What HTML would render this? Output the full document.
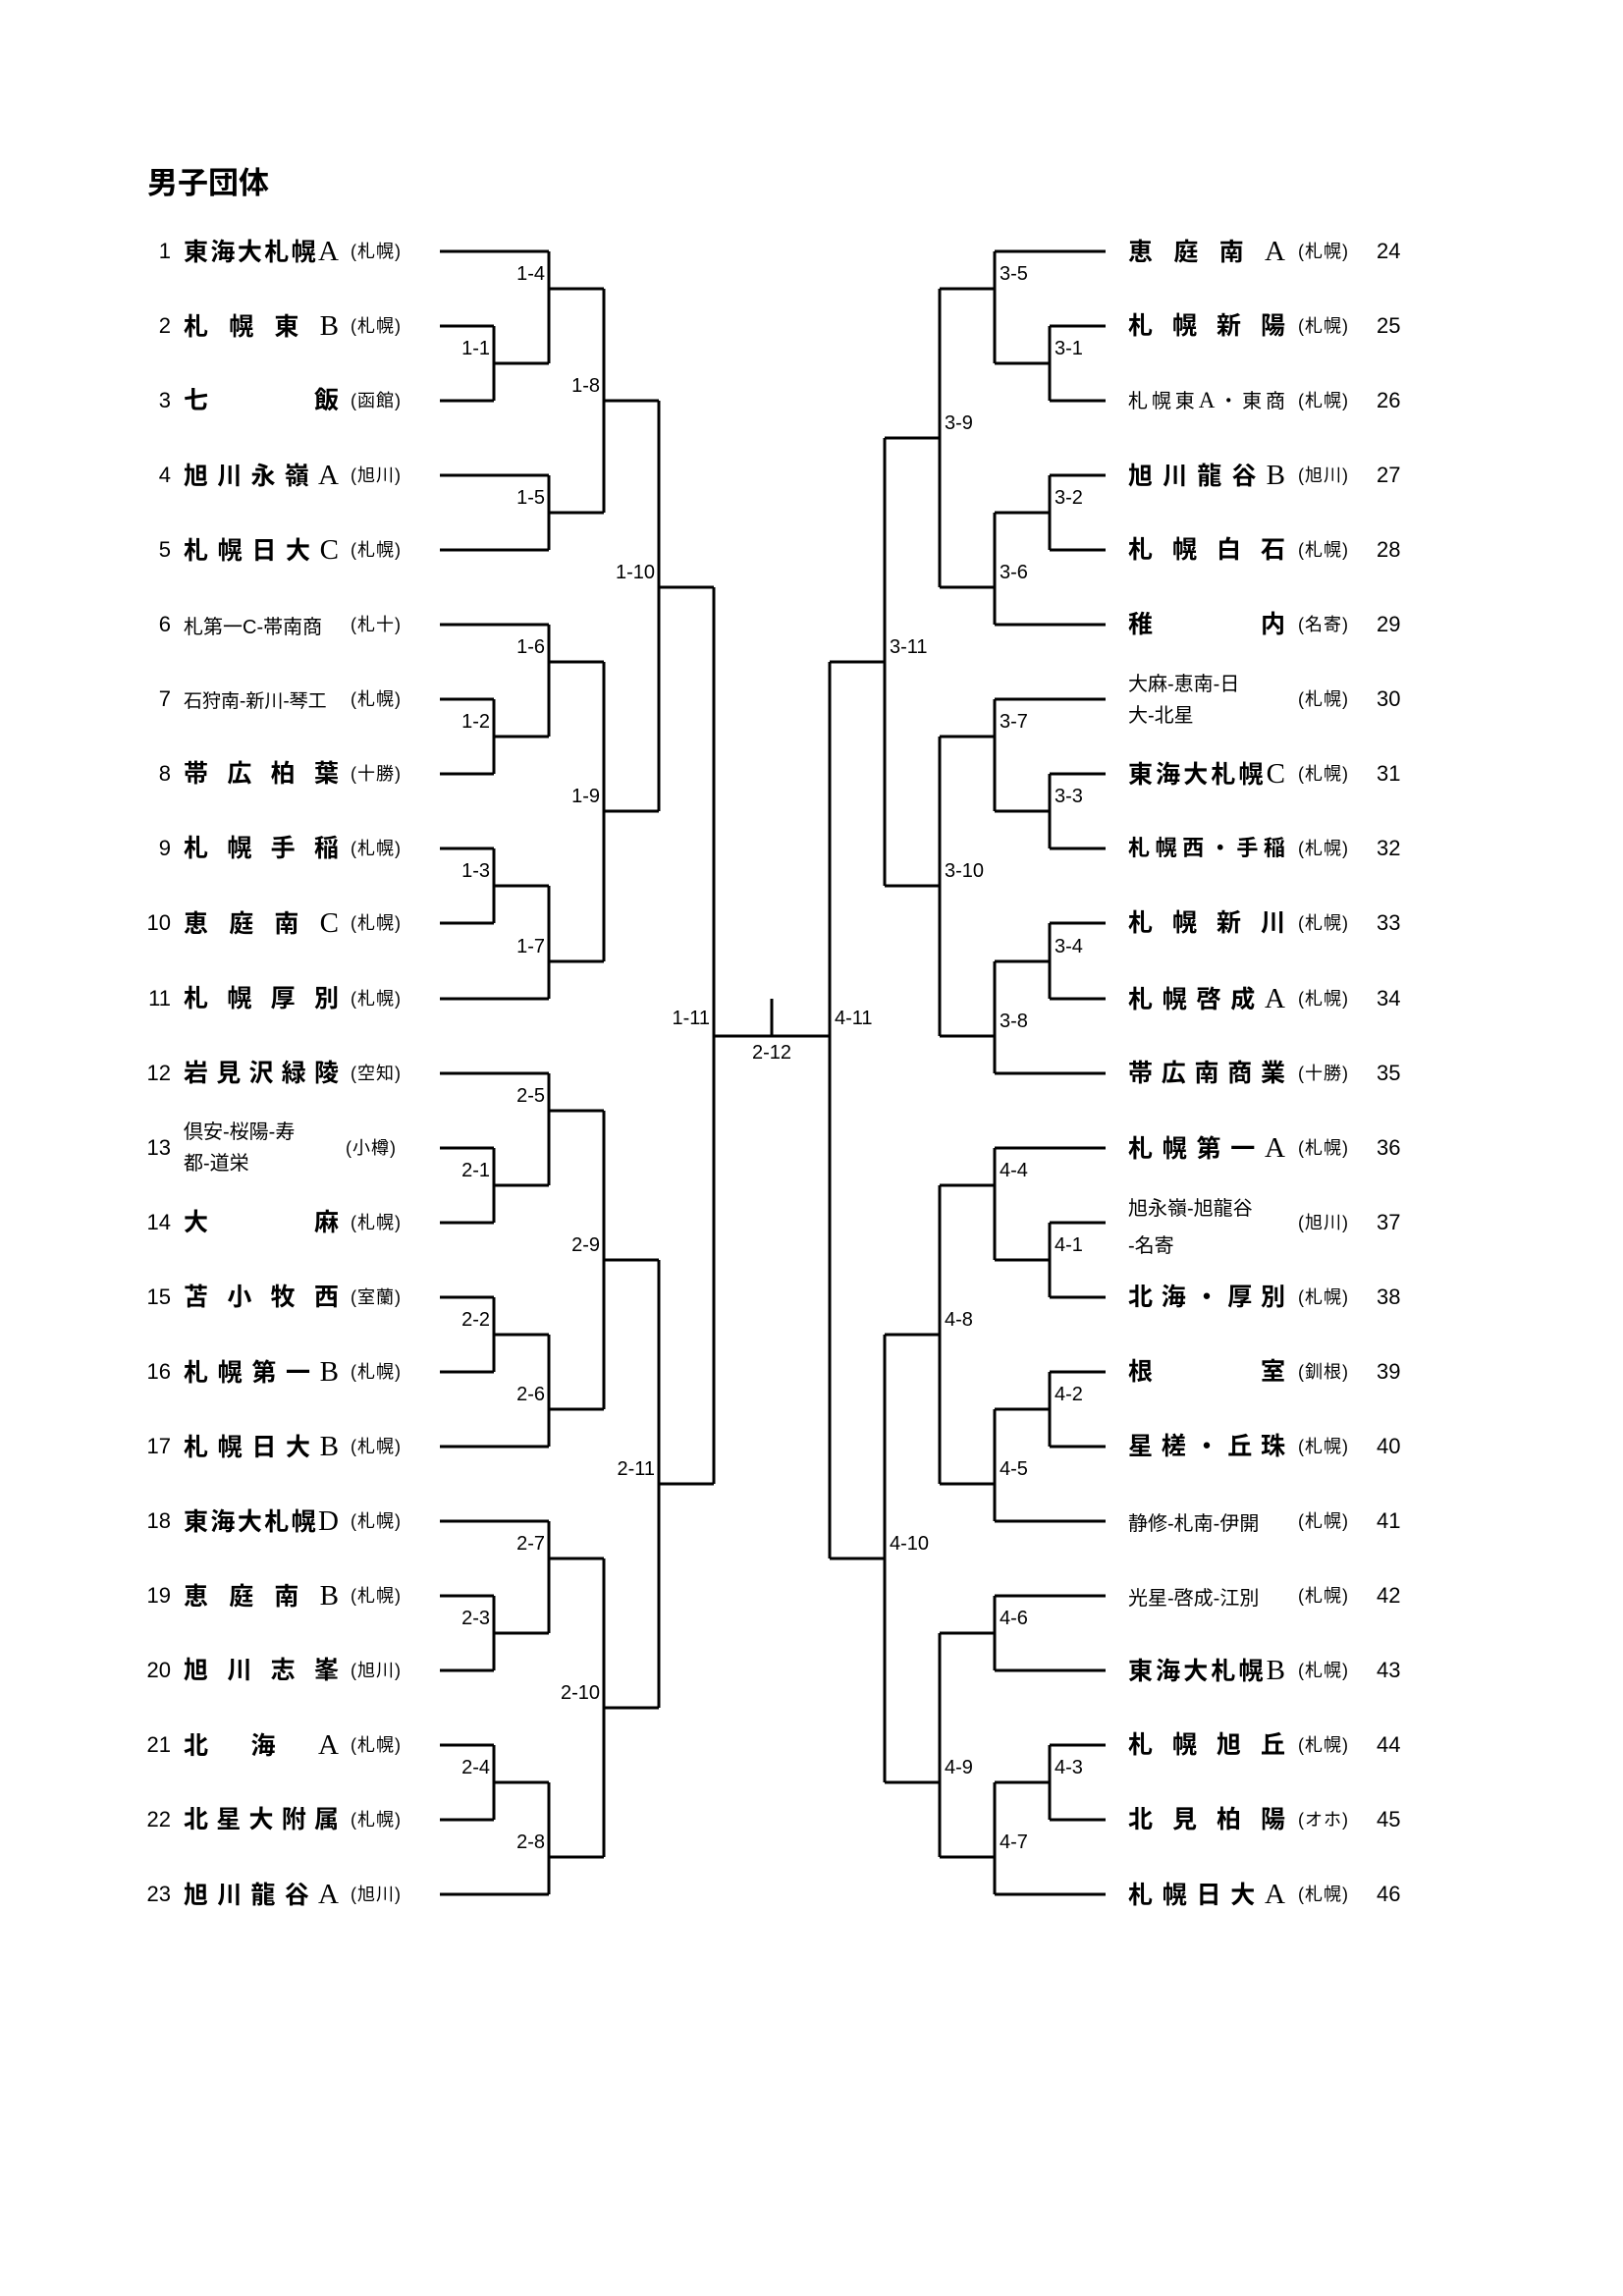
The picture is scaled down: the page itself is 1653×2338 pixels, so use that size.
<!DOCTYPE html>
<html><head><meta charset="utf-8">
<style>
html,body{margin:0;padding:0;background:#fff;}
body{width:1653px;height:2338px;position:relative;overflow:hidden;font-family:"Liberation Sans","Noto Sans CJK JP",sans-serif;color:#000;}
.t{position:absolute;left:150px;top:168px;font-size:31px;font-weight:bold;line-height:38px;white-space:nowrap;}
.n,.nm,.p,.rn,.rnm,.rp,.l,.r,.c{position:absolute;height:30px;line-height:30px;white-space:nowrap;}
.n{left:110px;width:64px;text-align:right;font-size:22px;}
.rn{left:1402px;font-size:22px;}
.nm{left:187px;width:158px;font-size:25px;font-weight:bold;text-align:justify;text-align-last:justify;}
.rnm{left:1149px;width:160px;font-size:25px;font-weight:bold;text-align:justify;text-align-last:justify;}
.p{left:357px;font-size:18px;letter-spacing:1px;}
.rp{left:1322px;font-size:18px;letter-spacing:1px;}
.sm{font-size:20px;font-weight:normal;text-align:left;text-align-last:left;}
.s{font-family:"Liberation Serif",serif;font-size:29px;font-weight:normal;}
.two{height:64px;line-height:32px;font-size:20px;font-weight:normal;text-align:left;text-align-last:left;}
.l{font-size:20px;text-align:right;width:60px;}
.r{font-size:20px;}
.c{font-size:20px;width:60px;text-align:center;}
</style></head><body>
<div class="t">男子団体</div>
<svg width="1653" height="2338" style="position:absolute;left:0;top:0" fill="none" stroke="#000" stroke-width="3">
<path d="M448 256H559M448 332H503M448 408H503M448 484H559M448 560H559M448 636H559M448 712H503M448 788H503M448 864H503M448 940H503M448 1017H559M448 1093H559M448 1169H503M448 1245H503M448 1321H503M448 1397H503M448 1473H559M448 1549H559M448 1625H503M448 1701H503M448 1777H503M448 1853H503M448 1929H559"/>
<path d="M503 332V408M503 370H559M559 256V370M559 294H615M559 484V560M559 522H615M615 294V522M615 408H671M503 712V788M503 750H559M559 636V750M559 674H615M503 864V940M503 902H559M559 902V1017M559 979H615M615 674V979M615 826H671M671 408V826M671 598H727"/>
<path d="M503 1169V1245M503 1207H559M559 1093V1207M559 1131H615M503 1321V1397M503 1359H559M559 1359V1473M559 1435H615M615 1131V1435M615 1283H671M503 1625V1701M503 1663H559M559 1549V1663M559 1587H615M503 1777V1853M503 1815H559M559 1815V1929M559 1891H615M615 1587V1891M615 1739H671M671 1283V1739M671 1511H727"/>
<path d="M727 598V1511M727 1055H845M786 1017V1055M845 674V1587"/>
<path d="M1013 256H1126M1069 332H1126M1069 408H1126M1069 484H1126M1069 560H1126M1013 636H1126M1013 712H1126M1069 788H1126M1069 864H1126M1069 940H1126M1069 1017H1126M1013 1093H1126M1013 1169H1126M1069 1245H1126M1069 1321H1126M1069 1397H1126M1069 1473H1126M1013 1549H1126M1013 1625H1126M1013 1701H1126M1069 1777H1126M1069 1853H1126M1013 1929H1126"/>
<path d="M1069 332V408M1069 370H1013M1013 256V370M1013 294H957M1069 484V560M1069 522H1013M1013 522V636M1013 598H957M957 294V598M957 446H901M1069 788V864M1069 826H1013M1013 712V826M1013 750H957M1069 940V1017M1069 979H1013M1013 979V1093M1013 1055H957M957 750V1055M957 902H901M901 446V902M901 674H845"/>
<path d="M1069 1245V1321M1069 1283H1013M1013 1169V1283M1013 1207H957M1069 1397V1473M1069 1435H1013M1013 1435V1549M1013 1511H957M957 1207V1511M957 1359H901M1013 1625V1701M1013 1663H957M1069 1777V1853M1069 1815H1013M1013 1815V1929M1013 1891H957M957 1663V1891M957 1815H901M901 1359V1815M901 1587H845"/>
</svg>

<div class="l" style="left:495px;top:264px">1-4</div>
<div class="l" style="left:439px;top:340px">1-1</div>
<div class="l" style="left:551px;top:378px">1-8</div>
<div class="l" style="left:495px;top:492px">1-5</div>
<div class="l" style="left:607px;top:568px">1-10</div>
<div class="l" style="left:495px;top:644px">1-6</div>
<div class="l" style="left:439px;top:720px">1-2</div>
<div class="l" style="left:551px;top:796px">1-9</div>
<div class="l" style="left:439px;top:872px">1-3</div>
<div class="l" style="left:495px;top:949px">1-7</div>
<div class="l" style="left:663px;top:1022px">1-11</div>
<div class="l" style="left:495px;top:1101px">2-5</div>
<div class="l" style="left:439px;top:1177px">2-1</div>
<div class="l" style="left:551px;top:1253px">2-9</div>
<div class="l" style="left:439px;top:1329px">2-2</div>
<div class="l" style="left:495px;top:1405px">2-6</div>
<div class="l" style="left:607px;top:1481px">2-11</div>
<div class="l" style="left:495px;top:1557px">2-7</div>
<div class="l" style="left:439px;top:1633px">2-3</div>
<div class="l" style="left:551px;top:1709px">2-10</div>
<div class="l" style="left:439px;top:1785px">2-4</div>
<div class="l" style="left:495px;top:1861px">2-8</div>
<div class="c" style="left:756px;top:1057px">2-12</div>
<div class="r" style="left:1018px;top:264px">3-5</div>
<div class="r" style="left:1074px;top:340px">3-1</div>
<div class="r" style="left:962px;top:416px">3-9</div>
<div class="r" style="left:1074px;top:492px">3-2</div>
<div class="r" style="left:1018px;top:568px">3-6</div>
<div class="r" style="left:906px;top:644px">3-11</div>
<div class="r" style="left:1018px;top:720px">3-7</div>
<div class="r" style="left:1074px;top:796px">3-3</div>
<div class="r" style="left:962px;top:872px">3-10</div>
<div class="r" style="left:1074px;top:949px">3-4</div>
<div class="r" style="left:1018px;top:1025px">3-8</div>
<div class="r" style="left:850px;top:1022px">4-11</div>
<div class="r" style="left:1018px;top:1177px">4-4</div>
<div class="r" style="left:1074px;top:1253px">4-1</div>
<div class="r" style="left:962px;top:1329px">4-8</div>
<div class="r" style="left:1074px;top:1405px">4-2</div>
<div class="r" style="left:1018px;top:1481px">4-5</div>
<div class="r" style="left:906px;top:1557px">4-10</div>
<div class="r" style="left:1018px;top:1633px">4-6</div>
<div class="r" style="left:962px;top:1785px">4-9</div>
<div class="r" style="left:1074px;top:1785px">4-3</div>
<div class="r" style="left:1018px;top:1861px">4-7</div>

<div class="n" style="top:241px">1</div><div class="nm" style="top:241px">東海大札幌<span class="s">A</span></div><div class="p" style="top:241px">(札幌)</div>
<div class="n" style="top:317px">2</div><div class="nm" style="top:317px">札幌東<span class="s">B</span></div><div class="p" style="top:317px">(札幌)</div>
<div class="n" style="top:393px">3</div><div class="nm" style="top:393px">七飯</div><div class="p" style="top:393px">(函館)</div>
<div class="n" style="top:469px">4</div><div class="nm" style="top:469px">旭川永嶺<span class="s">A</span></div><div class="p" style="top:469px">(旭川)</div>
<div class="n" style="top:545px">5</div><div class="nm" style="top:545px">札幌日大<span class="s">C</span></div><div class="p" style="top:545px">(札幌)</div>
<div class="n" style="top:621px">6</div><div class="nm sm" style="top:624px">札第一C-帯南商</div><div class="p" style="top:621px">(札十)</div>
<div class="n" style="top:697px">7</div><div class="nm sm" style="top:700px;font-size:19px">石狩南-新川-琴工</div><div class="p" style="top:697px">(札幌)</div>
<div class="n" style="top:773px">8</div><div class="nm" style="top:773px">帯広柏葉</div><div class="p" style="top:773px">(十勝)</div>
<div class="n" style="top:849px">9</div><div class="nm" style="top:849px">札幌手稲</div><div class="p" style="top:849px">(札幌)</div>
<div class="n" style="top:925px">10</div><div class="nm" style="top:925px">恵庭南<span class="s">C</span></div><div class="p" style="top:925px">(札幌)</div>
<div class="n" style="top:1002px">11</div><div class="nm" style="top:1002px">札幌厚別</div><div class="p" style="top:1002px">(札幌)</div>
<div class="n" style="top:1078px">12</div><div class="nm" style="top:1078px">岩見沢緑陵</div><div class="p" style="top:1078px">(空知)</div>
<div class="n" style="top:1154px">13</div><div class="nm two" style="top:1137px">倶安-桜陽-寿<br>都-道栄</div><div class="p" style="top:1154px;left:352px">(小樽)</div>
<div class="n" style="top:1230px">14</div><div class="nm" style="top:1230px">大麻</div><div class="p" style="top:1230px">(札幌)</div>
<div class="n" style="top:1306px">15</div><div class="nm" style="top:1306px">苫小牧西</div><div class="p" style="top:1306px">(室蘭)</div>
<div class="n" style="top:1382px">16</div><div class="nm" style="top:1382px">札幌第一<span class="s">B</span></div><div class="p" style="top:1382px">(札幌)</div>
<div class="n" style="top:1458px">17</div><div class="nm" style="top:1458px">札幌日大<span class="s">B</span></div><div class="p" style="top:1458px">(札幌)</div>
<div class="n" style="top:1534px">18</div><div class="nm" style="top:1534px">東海大札幌<span class="s">D</span></div><div class="p" style="top:1534px">(札幌)</div>
<div class="n" style="top:1610px">19</div><div class="nm" style="top:1610px">恵庭南<span class="s">B</span></div><div class="p" style="top:1610px">(札幌)</div>
<div class="n" style="top:1686px">20</div><div class="nm" style="top:1686px">旭川志峯</div><div class="p" style="top:1686px">(旭川)</div>
<div class="n" style="top:1762px">21</div><div class="nm" style="top:1762px">北海<span class="s">A</span></div><div class="p" style="top:1762px">(札幌)</div>
<div class="n" style="top:1838px">22</div><div class="nm" style="top:1838px">北星大附属</div><div class="p" style="top:1838px">(札幌)</div>
<div class="n" style="top:1914px">23</div><div class="nm" style="top:1914px">旭川龍谷<span class="s">A</span></div><div class="p" style="top:1914px">(旭川)</div>

<div class="rnm" style="top:241px">恵庭南<span class="s">A</span></div><div class="rp" style="top:241px">(札幌)</div><div class="rn" style="top:241px">24</div>
<div class="rnm" style="top:317px">札幌新陽</div><div class="rp" style="top:317px">(札幌)</div><div class="rn" style="top:317px">25</div>
<div class="rnm" style="top:393px;font-size:20px;font-weight:normal">札幌東<span class="s" style="font-size:23px">A</span>・東商</div><div class="rp" style="top:393px">(札幌)</div><div class="rn" style="top:393px">26</div>
<div class="rnm" style="top:469px">旭川龍谷<span class="s">B</span></div><div class="rp" style="top:469px">(旭川)</div><div class="rn" style="top:469px">27</div>
<div class="rnm" style="top:545px">札幌白石</div><div class="rp" style="top:545px">(札幌)</div><div class="rn" style="top:545px">28</div>
<div class="rnm" style="top:621px">稚内</div><div class="rp" style="top:621px">(名寄)</div><div class="rn" style="top:621px">29</div>
<div class="rnm two" style="top:681px">大麻-恵南-日<br>大-北星</div><div class="rp" style="top:697px">(札幌)</div><div class="rn" style="top:697px">30</div>
<div class="rnm" style="top:773px">東海大札幌<span class="s">C</span></div><div class="rp" style="top:773px">(札幌)</div><div class="rn" style="top:773px">31</div>
<div class="rnm" style="top:849px;font-size:22px">札幌西・手稲</div><div class="rp" style="top:849px">(札幌)</div><div class="rn" style="top:849px">32</div>
<div class="rnm" style="top:925px">札幌新川</div><div class="rp" style="top:925px">(札幌)</div><div class="rn" style="top:925px">33</div>
<div class="rnm" style="top:1002px">札幌啓成<span class="s">A</span></div><div class="rp" style="top:1002px">(札幌)</div><div class="rn" style="top:1002px">34</div>
<div class="rnm" style="top:1078px">帯広南商業</div><div class="rp" style="top:1078px">(十勝)</div><div class="rn" style="top:1078px">35</div>
<div class="rnm" style="top:1154px">札幌第一<span class="s">A</span></div><div class="rp" style="top:1154px">(札幌)</div><div class="rn" style="top:1154px">36</div>
<div class="rnm two" style="top:1212px;height:70px;line-height:38px">旭永嶺-旭龍谷<br>-名寄</div><div class="rp" style="top:1230px">(旭川)</div><div class="rn" style="top:1230px">37</div>
<div class="rnm" style="top:1306px">北海・厚別</div><div class="rp" style="top:1306px">(札幌)</div><div class="rn" style="top:1306px">38</div>
<div class="rnm" style="top:1382px">根室</div><div class="rp" style="top:1382px">(釧根)</div><div class="rn" style="top:1382px">39</div>
<div class="rnm" style="top:1458px">星槎・丘珠</div><div class="rp" style="top:1458px">(札幌)</div><div class="rn" style="top:1458px">40</div>
<div class="rnm sm" style="top:1537px">静修-札南-伊開</div><div class="rp" style="top:1534px">(札幌)</div><div class="rn" style="top:1534px">41</div>
<div class="rnm sm" style="top:1613px">光星-啓成-江別</div><div class="rp" style="top:1610px">(札幌)</div><div class="rn" style="top:1610px">42</div>
<div class="rnm" style="top:1686px">東海大札幌<span class="s">B</span></div><div class="rp" style="top:1686px">(札幌)</div><div class="rn" style="top:1686px">43</div>
<div class="rnm" style="top:1762px">札幌旭丘</div><div class="rp" style="top:1762px">(札幌)</div><div class="rn" style="top:1762px">44</div>
<div class="rnm" style="top:1838px">北見柏陽</div><div class="rp" style="top:1838px">(オホ)</div><div class="rn" style="top:1838px">45</div>
<div class="rnm" style="top:1914px">札幌日大<span class="s">A</span></div><div class="rp" style="top:1914px">(札幌)</div><div class="rn" style="top:1914px">46</div>
</body></html>
